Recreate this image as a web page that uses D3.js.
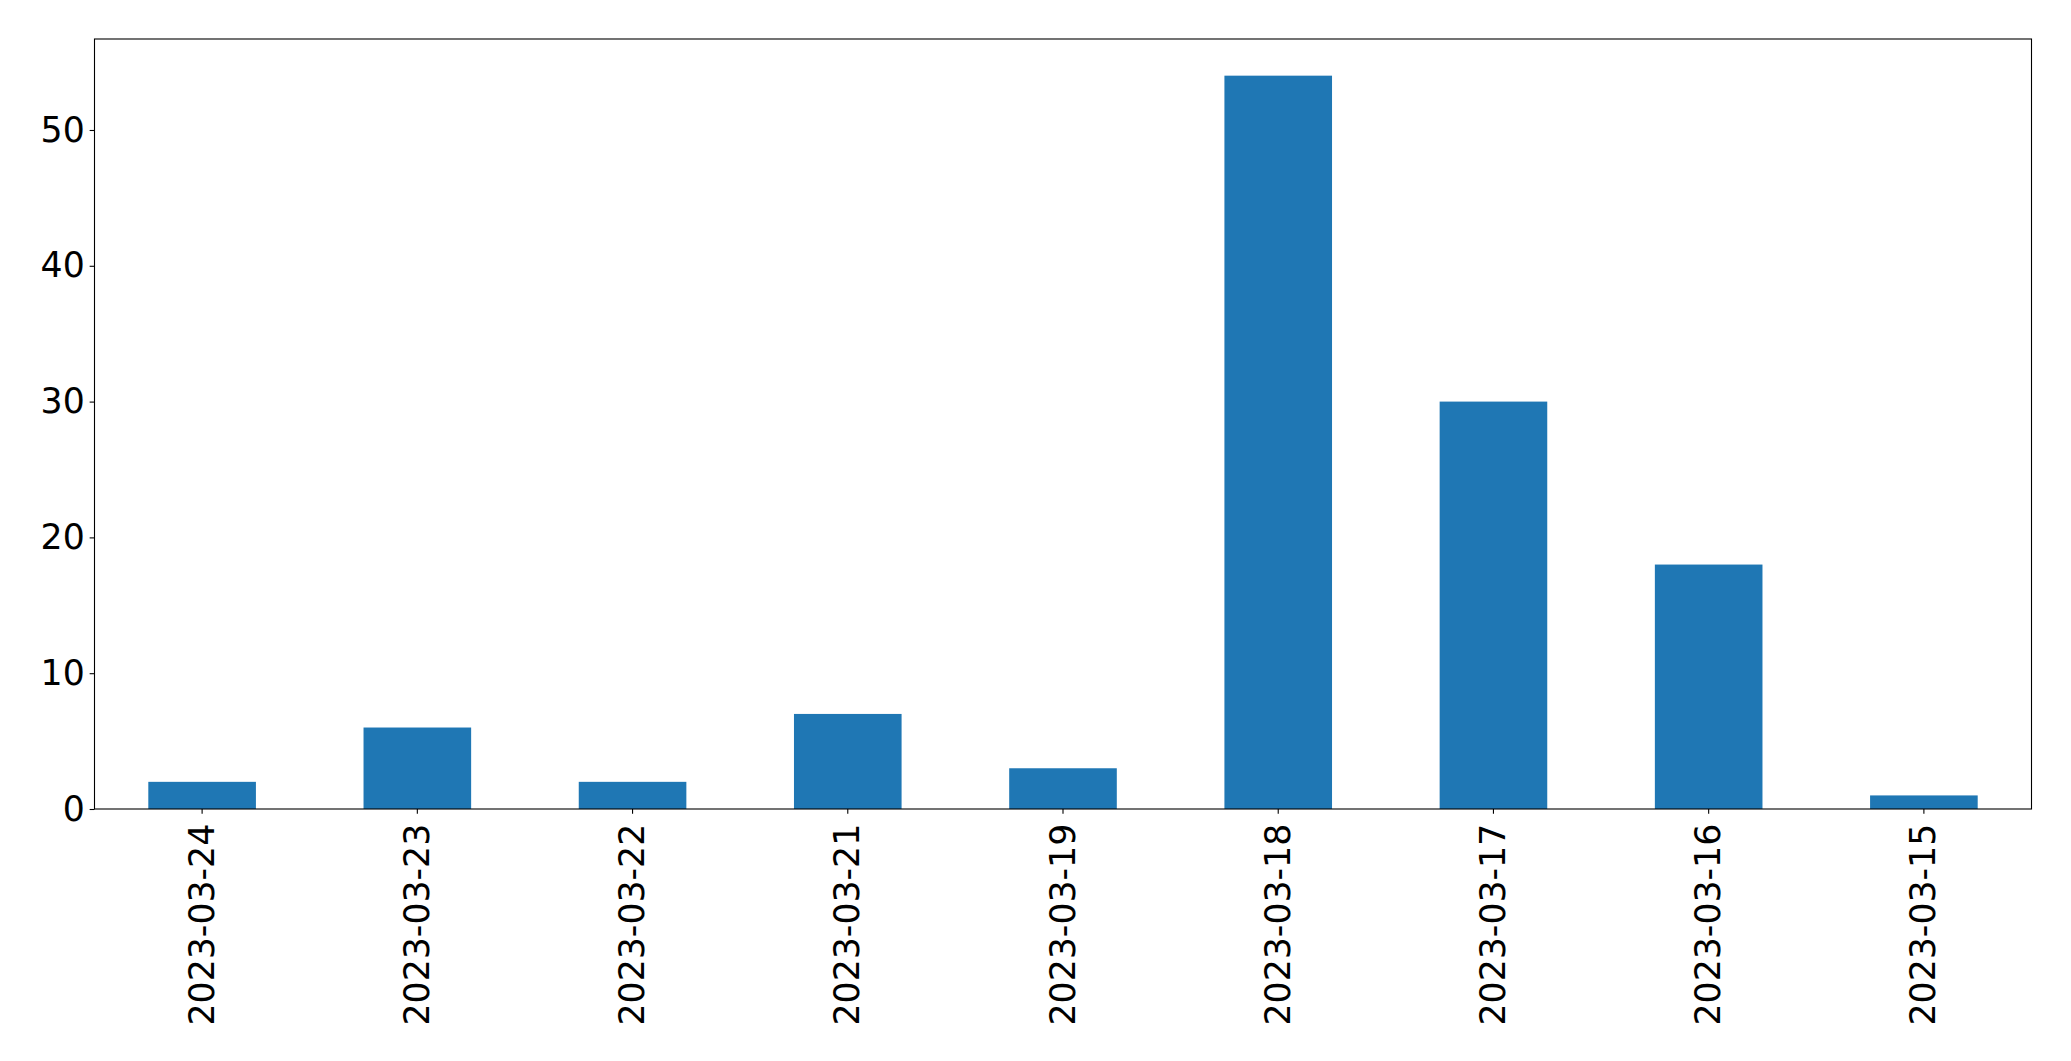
<!DOCTYPE html>
<html>
<head>
<meta charset="utf-8">
<script src="https://cdn.jsdelivr.net/npm/d3@7"></script>
<style>
  body { margin: 0; background: #fff; }
  svg { display: block; }
</style>
</head>
<body>
<script>
const categories = ["2023-03-24", "2023-03-23", "2023-03-22", "2023-03-21", "2023-03-19", "2023-03-18", "2023-03-17", "2023-03-16", "2023-03-15"];
const values = [2, 6, 2, 7, 3, 54, 30, 18, 1];
const yTicks = [0, 10, 20, 30, 40, 50];

(function () {
const W = 2071, H = 1061;
const plotLeft = 94.5, plotRight = 2031.5, plotTop = 39, plotBottom = 809;
const fontSize = 34.72;
const tickLen = 4.86, tickPad = 4.86;

const svg = d3.select("body").append("svg").attr("width", W).attr("height", H);

const x = d3.scaleBand().domain(categories).range([plotLeft, plotRight]).paddingInner(0.5).paddingOuter(0.25);
const yMax = d3.max(values) * 1.05;
const y = d3.scaleLinear().domain([0, yMax]).range([plotBottom, plotTop]);

svg.append("g").selectAll("rect").data(values).join("rect")
  .attr("x", (d, i) => x(categories[i]))
  .attr("width", x.bandwidth())
  .attr("y", d => y(d))
  .attr("height", d => y(0) - y(d))
  .attr("fill", "#1f77b4");

// frame
svg.append("rect")
  .attr("x", plotLeft).attr("y", plotTop)
  .attr("width", plotRight - plotLeft).attr("height", plotBottom - plotTop)
  .attr("fill", "none").attr("stroke", "#000").attr("stroke-width", 1.1);

// y axis
const yAxis = svg.append("g").attr("transform", `translate(${plotLeft},0)`)
  .call(d3.axisLeft(y).tickValues(yTicks).tickSize(tickLen).tickPadding(tickPad).tickFormat(d3.format("d")));
yAxis.select(".domain").remove();
yAxis.selectAll("line").attr("stroke", "#000").attr("stroke-width", 1.1);
yAxis.selectAll("text").attr("font-family", "DejaVu Sans").attr("font-size", fontSize).attr("fill", "#000");

// x axis
const xAxis = svg.append("g").attr("transform", `translate(0,${plotBottom})`)
  .call(d3.axisBottom(x).tickSize(tickLen).tickPadding(tickPad));
xAxis.select(".domain").remove();
xAxis.selectAll("line").attr("stroke", "#000").attr("stroke-width", 1.1);
xAxis.selectAll("text")
  .attr("font-family", "DejaVu Sans").attr("font-size", fontSize).attr("fill", "#000")
  .attr("text-anchor", "end")
  .attr("y", 0).attr("x", 0).attr("dy", 0)
  .attr("transform", `translate(11.5,${tickLen + tickPad + 5}) rotate(-90)`);
})();
</script>
</body>
</html>
